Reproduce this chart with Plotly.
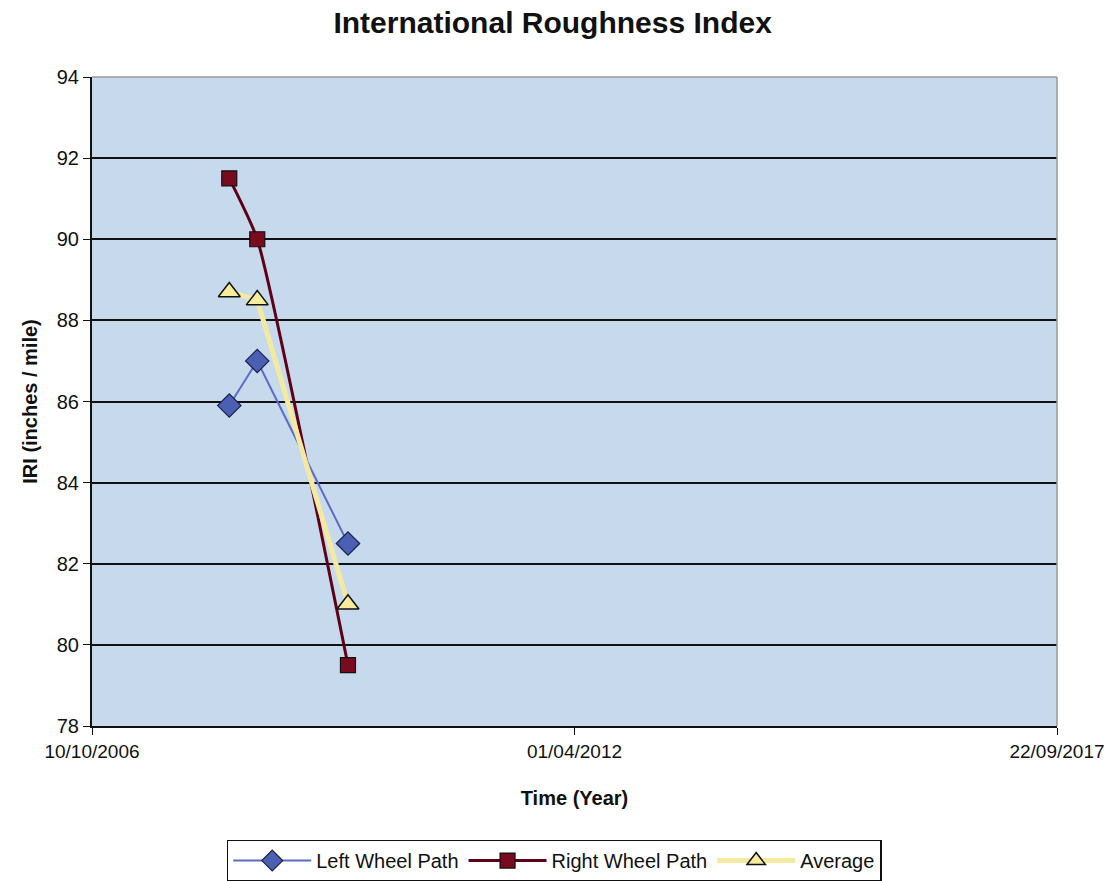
import plotly.graph_objects as go

# Survey dates and IRI readings
dates = ["2008-05-01", "2008-08-25", "2009-09-05"]
left_wheel = [85.9, 87.0, 82.5]
right_wheel = [91.5, 90.0, 79.5]
average = [88.7, 88.5, 81.0]

x_ticks = ["2006-10-10", "2012-04-01", "2017-09-22"]
x_tick_labels = ["10/10/2006", "01/04/2012", "22/09/2017"]
y_ticks = [78, 80, 82, 84, 86, 88, 90, 92, 94]

fig = go.Figure()

fig.add_trace(go.Scatter(
    x=dates, y=left_wheel, name="Left Wheel Path", mode="lines+markers",
    line=dict(color="#5a6cc4", width=2),
    marker=dict(symbol="diamond", size=18, color="#4b5fb3",
                line=dict(color="#1a1f4a", width=1.2)),
))
fig.add_trace(go.Scatter(
    x=dates, y=right_wheel, name="Right Wheel Path", mode="lines+markers",
    line=dict(color="#5e0016", width=3, shape="spline", smoothing=0.5),
    marker=dict(symbol="square", size=15, color="#7a0a1e",
                line=dict(color="#111111", width=1.2)),
))
fig.add_trace(go.Scatter(
    x=dates, y=average, name="Average", mode="lines+markers",
    line=dict(color="#f3e9a0", width=5),
    marker=dict(symbol="triangle-up", size=19, color="#f6ec9c",
                line=dict(color="#111111", width=1.5)),
))

fig.update_layout(
    width=1112, height=881,
    paper_bgcolor="white", plot_bgcolor="#c7daed",
    margin=dict(l=92, r=55, t=77, b=155, autoexpand=False),
    font=dict(family="Arial, Liberation Sans, sans-serif", color="#111111"),
    title=dict(text="<b>International Roughness Index</b>", x=0.497, xanchor="center",
               y=0.975, yanchor="middle", font=dict(size=30)),
    showlegend=True,
    legend=dict(orientation="h", x=0.479, xanchor="center",
                yref="container", y=0.047, yanchor="top",
                bordercolor="#111111", borderwidth=1.5, bgcolor="white",
                font=dict(size=20), itemwidth=78),
)

fig.update_xaxes(
    type="date", range=["2006-10-10", "2017-09-22"],
    tickvals=x_ticks, ticktext=x_tick_labels,
    ticks="outside", ticklen=7, tickcolor="#111111",
    tickfont=dict(size=19),
    showgrid=False, showline=True, linecolor="#111111", linewidth=2, mirror=False,
    zeroline=False,
    title=dict(text="<b>Time (Year)</b>", font=dict(size=20), standoff=30),
)
fig.update_yaxes(
    range=[78, 94], tickvals=y_ticks,
    ticks="outside", ticklen=7, tickcolor="#111111",
    tickfont=dict(size=20),
    showgrid=True, gridcolor="#111111", gridwidth=1.5,
    showline=True, linecolor="#111111", linewidth=2, zeroline=False,
    title=dict(text="<b>IRI (inches / mile)</b>", font=dict(size=20), standoff=14),
)

# light frame on the top and right edges of the plot area
fig.add_shape(type="line", xref="paper", yref="paper", x0=0, x1=1, y0=1, y1=1,
              line=dict(color="#9a9a9a", width=1.5))
fig.add_shape(type="line", xref="paper", yref="paper", x0=1, x1=1, y0=0, y1=1,
              line=dict(color="#9a9a9a", width=1.5))

fig.write_html("out.html")
